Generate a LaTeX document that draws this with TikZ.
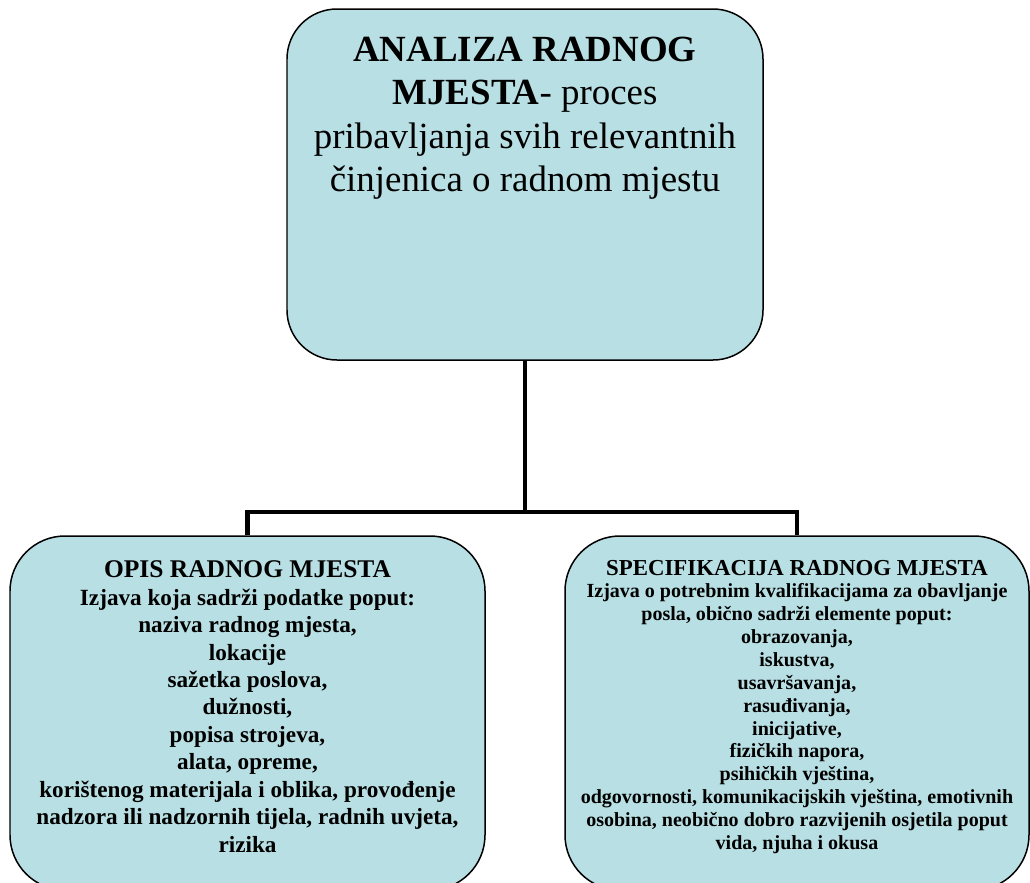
\documentclass[tikz,border=0pt]{standalone}
\usepackage{fontspec}
\setmainfont{Liberation Serif}
\usetikzlibrary{positioning,calc}

\definecolor{boxblue}{RGB}{184,223,227}

\tikzset{
  jobbox/.style={draw=black, line width=0.85pt, fill=boxblue,
    rounded corners=1.1cm, inner sep=0pt, align=center},
  link/.style={draw=black, line width=2.8pt}
}

\begin{document}
\begin{tikzpicture}
  \useasboundingbox (0,0) rectangle (20.6,-17.66);
  \clip (0,0) rectangle (20.6,-17.66);

  % Define boxes
  \node [jobbox, rounded corners=1cm, minimum width=9.52cm, minimum height=7.02cm]
    (analiza) at (10.5,-3.69)
    {\parbox[c][5.88cm][t]{9.3cm}{\centering\fontsize{21}{24.5}\selectfont
      \textbf{ANALIZA RADNOG}\\
      \textbf{MJESTA}- proces\\
      pribavljanja svih relevantnih\\
      činjenica o radnom mjestu}};

  \node [jobbox, minimum width=9.5cm, minimum height=7.08cm]
    (opis) at (4.95,-14.26)
    {\parbox[c][6.08cm][t]{9.3cm}{\centering\bfseries
      {\fontsize{14.5}{15.6}\selectfont OPIS RADNOG MJESTA}\\
      \fontsize{13.2}{15.6}\selectfont
      Izjava koja sadrži podatke poput:\\
      naziva radnog mjesta,\\
      lokacije\\
      sažetka poslova,\\
      dužnosti,\\
      popisa strojeva,\\
      alata, opreme,\\
      korištenog materijala i oblika, provođenje\\
      nadzora ili nadzornih tijela, radnih uvjeta,\\
      rizika}};

  \node [jobbox, minimum width=9.28cm, minimum height=7.08cm]
    (specifikacija) at (15.94,-14.26)
    {\parbox[c][6.12cm][t]{9.1cm}{\centering\bfseries
      {\fontsize{13}{13}\selectfont SPECIFIKACIJA RADNOG MJESTA}\\
      \fontsize{11.4}{13}\selectfont
      Izjava o potrebnim kvalifikacijama za obavljanje\\
      posla, obično sadrži elemente poput:\\
      obrazovanja,\\
      iskustva,\\
      usavršavanja,\\
      rasuđivanja,\\
      inicijative,\\
      fizičkih napora,\\
      psihičkih vještina,\\
      odgovornosti, komunikacijskih vještina, emotivnih\\
      osobina, neobično dobro razvijenih osjetila poput\\
      vida, njuha i okusa}};

  \coordinate (bus) at (10.5,-10.24);

  % Draw connectors
  \draw [link] (analiza.south) -- (analiza.south |- bus);
  \draw [link] (opis.north) -- (opis.north |- bus)
    -- (specifikacija.north |- bus) -- (specifikacija.north);
\end{tikzpicture}
\end{document}
